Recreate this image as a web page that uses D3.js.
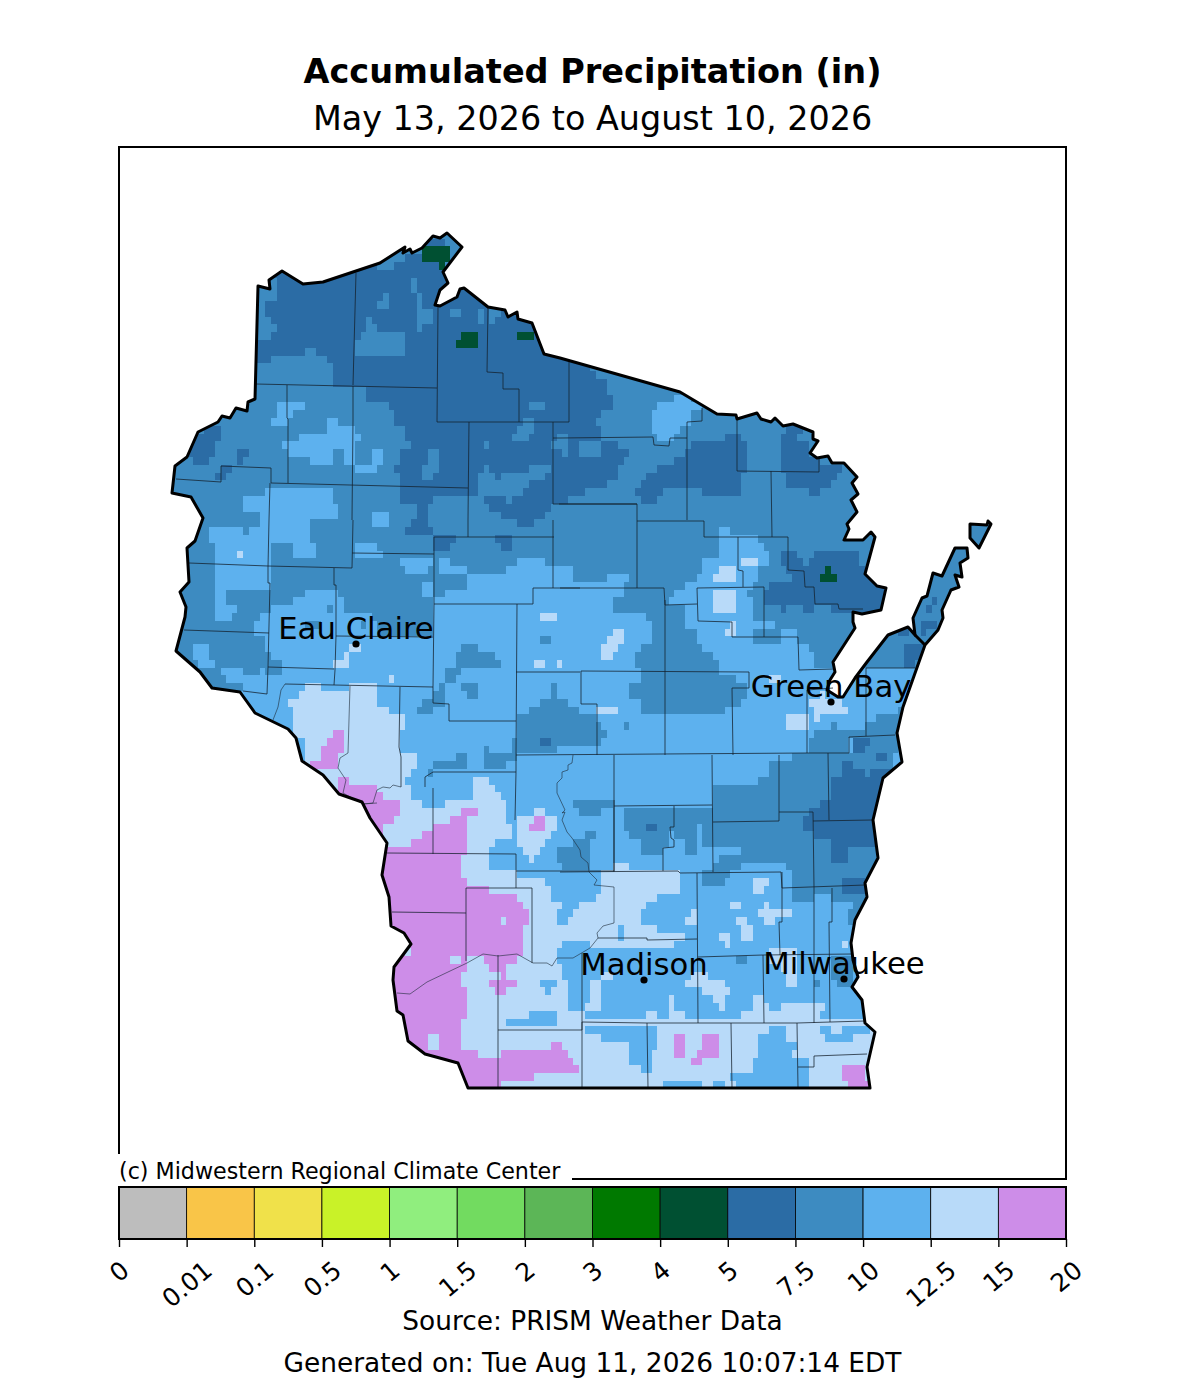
<!DOCTYPE html>
<html>
<head>
<meta charset="utf-8">
<script src="https://cdn.jsdelivr.net/npm/d3@7"></script>
<style>
  html, body { margin: 0; background: #fff; }
  text { font-family: "DejaVu Sans", sans-serif; fill: #000; }
</style>
</head>
<body>
<svg id="chart" width="1184" height="1400"></svg>
<script>
// bins of the colour bar
const binEdges = ['0', '0.01', '0.1', '0.5', '1', '1.5', '2', '3', '4', '5', '7.5', '10', '12.5', '15', '20'];
const binColors = ['#bdbdbd', '#f9c548', '#f0e14a', '#c9f228', '#90ee7e', '#72db60', '#5cb657', '#007900', '#005032', '#2b6ca5', '#3d8bc1', '#5db1ee', '#b8daf9', '#cd8de8'];

// inches, one typical value per bin seen on the map
const G = 4.5, D = 6, M = 8.5, L = 11, P = 13.5, U = 17;
const baseValue = M;

// map coordinates are grid units: east, south
const stateOutline = '25.8,28.6 27,28.9 26.9,28 28.2,27.1 30.3,28.4 32.3,28.2 38,26.3 40.5,24.7 40.3,25.3 41,24.9 41.2,25.3 42.2,24.8 43.3,23.6 44,23.8 44.7,23.3 46.2,24.7 44.3,27.2 44.8,28.3 44,29 43.5,30.5 44,30.6 45.7,29.7 46,28.9 46.4,28.8 48.8,30.7 50.5,31 50.8,31.7 51.7,31.2 51.8,31.9 53.2,32.3 54.4,35.4 56,35.8 68,39.2 71.7,41.4 73.6,41.5 73.7,41.9 75.7,41.3 76.1,41.9 77.1,42.2 77.5,41.8 78.3,42.6 79.3,42.4 81.3,43.2 81.3,43.9 81.8,44.1 81,45.3 81.7,45.8 82.8,45.6 83.2,46.3 84.4,46.3 85.7,47.7 85.2,48.3 85.8,49.4 85.1,50 85.7,51.2 84.7,52.4 84.9,52.9 84.4,54 86.3,54 87.1,53.2 87.5,53.7 86.5,57.4 87.7,58.6 88.6,58.8 88.1,61 86.2,61.4 85.3,61.2 85.3,62.2 85.5,62.8 83.3,66.2 83.5,67.2 83,68 82.7,69 83.8,69.7 84.3,69.7 85.5,67.8 86.7,66.2 88.8,63.5 89.8,63.1 90.8,62.7 91.5,63.5 91.3,61.8 92.2,59.8 92.7,59.6 93.3,57.3 94.2,57.6 95.5,54.8 96.7,54.8 96.8,55.8 96,56.3 96.2,57.7 95.5,57.5 95.9,58.7 95.1,59 94.2,61 94.3,61.8 93.8,63 92.5,64.5 90.3,70.7 89.7,73.3 90.2,76.2 88.3,77.8 87.3,82 87.8,85.8 86.5,88.3 86.7,89.7 85.5,92 85.1,94.3 85.3,96 85.8,97.7 85.2,98.7 86.2,100 86.5,102.3 87.5,103.2 86.7,106.7 87,108.8 46.8,108.8 45.8,106.3 42.5,105.4 40.8,104.1 40.3,101.5 39.7,101.1 39.3,98 39.4,96.7 41.1,94.4 40.4,93.3 39.1,92.6 38.9,89.7 38.2,87.5 38.7,84.3 37,81.8 36.2,80.2 33.9,79.4 32.3,77.5 30.2,76.1 29.6,73.8 28.8,72.9 25.5,71.3 24,69.2 21.2,68.8 20,67.2 17.6,65.1 18.5,61.7 18.6,60.7 18,59.2 18.9,58.2 18.7,54.8 19.5,54.1 20.3,51.8 19.1,49.7 17.2,49.3 17.5,46.6 18.7,45.7 19.8,43.2 21.8,42.2 22.2,41.6 23,41.8 23.6,40.8 24.7,41.1 24.8,40.2 25.5,39.9';
const islandOutline = '97,52.4 98.7,52.5 98.8,52.1 99.1,52.4 98.3,54 97.9,54.8 97,53.8';
const doorSeam = '91.5,63.5 92.5,64.5';

const countyLines = [
  '35.6,27.3 35.3,38.5', '25.6,38.4 43.7,38.8', '43.8,30.7 43.7,42.2',
  '48.8,30.7 48.7,37.2 50.3,37.3 50.3,38.9 51.9,38.9 51.9,42.2', '43.7,42.2 56.9,42.2', '56.9,36.2 56.9,42.2',
  '28.7,38.5 28.7,41.8 28.8,41.9 28.8,48.3', '35.3,38.6 35.3,42 35.2,52', '46.9,42.2 46.8,52', '55.3,42.2 55.3,50.4',
  '55.3,43.8 56,43.8 65.3,43.7 65.4,44.5 66.9,44.6 67,43.8 68.7,43.8', '55.3,50.4 63.7,50.4 63.7,52.1 70.4,52.1 70.4,53.7 78.8,53.7 78.8,57 80.4,57.1 80.5,58.7 81.4,58.7 81.5,60.4 83.8,60.4 83.9,60.9 86.3,60.9',
  '17.6,47.9 22.1,48.2 22.1,46.6 27.1,46.8 27.1,48.3 46.8,48.8', '27,48.3 26.9,52 26.8,56.7 26.8,58.3 27,58.3 26.8,66.7 26.7,69.4',
  '24.3,69.1 26.7,69.4', '18.9,56.3 26.8,56.6 35.2,56.8 35.3,52', '18.4,63 26.9,63.3', '26.8,66.7 33.4,66.9',
  '33.4,56.8 33.4,58.5 33.6,58.5 33.6,63.6 33.5,67 33.4,68.5', '33.6,63.6 43.3,63.7', '35.2,55.3 43.4,55.4',
  '43.4,53.7 55.4,53.7', '46.8,52 46.8,53.7', '43.4,53.7 43.4,60.4 43.3,68.7', '55.3,52 55.3,58.8', '53.3,58.8 58,58.8',
  '53.3,58.8 53.3,60.4 43.4,60.4', '51.7,60.4 51.6,75.5', '51.6,67.2 58,67.2', '55.9,50.4 63.7,50.4', '63.7,52.1 63.7,58.8',
  '56,58.8 66.4,58.8 66.5,60.5 69.7,60.4', '69.7,58.8 76.4,58.7', '69.7,58.8 69.8,62.1 73.2,62.2 73.2,63.7 79.8,63.7 79.9,67 83.3,66.9',
  '76.4,58.7 76.4,63.7', '73.8,53.7 73.8,57 74.3,57.1 74.3,58.7', '68.7,42.2 68.7,52', '68.7,42.2 70.2,42.1 70.2,40.8',
  '73.7,42 73.7,47.1 81.9,47.2 81.9,45.9', '77.1,47.1 77.2,53.7', '66.5,60 66.5,75.5', '58.1,67.1 74.9,67.2 74.9,68.8 73.2,68.8 73.3,75.5',
  '58.1,67.1 58.1,70.4 59.7,70.4 59.7,75.5', '51.6,75.5 80.7,75.3 84.9,75.3 84.9,73.7 89.5,73.5', '80.7,69 80.7,75.3', '80.7,69 83.3,68.8',
  '86.6,66.8 86.6,73.6', '86.6,66.8 91.5,66.8', '61.4,75.5 61.4,87.2', '61.4,80.6 71.2,80.5', '67.4,80.6 67.4,82.7 67,82.7 67.1,83.8 67.4,84 67.4,84.7 66.3,84.8 66.3,87.1',
  '71.2,75.5 71.3,87.2', '71.3,82.2 77.9,82.1', '77.9,75.5 77.9,82.1', '77.9,81.2 81.3,81.2 81.4,88.7', '81.3,82.1 87.2,82', '82.8,75.3 82.9,82',
  '56,87.2 67.8,87.1 68,87.3 78.1,87.2 78.2,88.8 86.5,88.5', '69.7,87.3 69.8,102.3', '81.4,88.7 81.4,102.3', '78.2,87.2 78.2,92.2 77.9,92.2 78,95.5', '83.2,88.8 83.2,92.2 82.9,92.2 83,102.2',
  '69.8,95.7 76.3,95.5 85.2,95.4', '76.3,95.5 76.4,102.3', '58.2,102.2 64.7,102.3 79.7,102.3 86.5,102.1', '64.7,102.3 64.8,108.8', '73.1,102.3 73.2,108.8', '79.7,102.3 79.8,108.8',
  '79.8,106.7 81.4,106.7 81.4,105.6 86.7,105.4', '63,93.8 64.7,93.8 64.7,94 69.7,93.9',
  '43.3,68.7 43.3,70.3 44.9,70.4 44.9,72.1 51.6,72.1', '42.5,78.7 42.5,77.7 43.3,77.2 51.6,77.2 51.5,82', '51.6,75.5 51.6,77.2',
  '28.5,68.4 43.3,68.7', '40,68.7 39.9,74.7 40.1,75.7 40.1,78.7', '43.3,78.8 43.3,85.4', '38.7,85.3 51.6,85.4', '51.6,85.4 51.6,88.8', '46.6,88.8 53.2,88.8 53.2,96.3', '46.6,88.8 46.6,96.1',
  '39.2,91.2 46.6,91.3', '49.8,95.5 49.8,108.7', '49.8,103 58.2,103', '58.2,95.3 58.2,108.7', '58.2,102.2 58.2,103', '51.6,87.1 61.4,87.1', '61.4,80 61.4,87.1', '59.8,93.8 63,93.8'
];
const riverLines = [
  '28.5,68.4 28.1,69 27.8,70.7 27.3,72', '35,68.6 34.8,75.3 34,75.8 33.8,76.8 34.6,78 34.3,79.3',
  '34.3,79.3 36.3,80.4 37.3,80.3 37.7,79 38.3,78.7 39,78.8 39.3,78.5 40.1,78.7', '36.3,80.4 37.7,80.3',
  '57.3,75.5 57.2,76.3 56.8,76.5 56.8,77 56.2,77.2 56.2,77.8 55.7,78.3 55.7,79.3 56.5,81 56.2,81.3 56.5,81.2 56.2,82 56.7,83.2 57.2,83.8 58,85 58.1,85.7 58.8,86.3 58.9,87.2 59.7,88 59.4,88.5 61.4,88.7 61.4,92.3 60.3,92.6 59.7,93.3 59.8,93.8 59,94.8 57.3,95.8 55.7,95.8 55.2,96.6 54.7,96.3 53.3,96.3 51.7,95.4 49.8,95.6 48.3,95.4 46.7,96.3 44.8,97.2 42.7,98.2 41,99.4 39.7,99.3'
];

// painted in order: a later zone covers an earlier one
const zones = [
  [D, '24,27 46,23 56,34 59.6,37 60.2,38.2 60.7,38.3 60.7,39.1 61.3,39.9 61.3,40.7 60.2,40.7 60.2,41.5 59.6,41.5 59.6,42.2 60.1,42.2 60.1,43.7 60.7,43.9 61.8,43.9 61.8,44.7 62.9,44.7 62.9,45.5 62.3,45.5 62.3,46.3 61.8,46.3 61.8,47.8 60.7,47.8 60.7,48.6 58.5,48.6 58.5,49.4 56.8,49.4 56.8,50.3 55.3,50.3 54.6,51 54.6,52 53.3,52 53.3,52.7 51.8,52.7 51.8,52 50,52 46.8,52 46.8,49.3 44.5,49.3 42.8,50.3 42.8,52 41.7,52 41.7,50.3 40,50 40.1,48.7 40.1,47 39.5,47 39.5,46.2 40.1,46.2 40.1,45.3 41.2,45.3 41.2,43.8 40.7,43.8 40.7,43 39.6,42.2 39.6,40.7 36.8,40.5 36.8,38.8 35.4,38.8 32.3,38.1 33,38 33,36.5 32.5,35.5 31.4,35.5 31.4,34.8 30.3,34.8 30.3,35.5 27,35.5 27,36.3 24,36.3'],
  [M, '25.5,28.4 27.7,28 27.7,29.8 26.6,29.8 26.6,31.5 27.1,31.5 27.1,32.3 27.6,32.3 27.6,33.1 27,33.1 27,33.9 25.5,33.9'],
  [M, '40.9,27.8 41.5,27.8 41.5,29.4 42,29.4 42,30.2 42.5,30.2 42.5,31 43.1,31 43.1,31.8 43.6,31.8 43.6,32.7 42.5,32.7 42.5,33.4 41.9,33.4 41.9,32.7 41.4,32.7 41.4,29.4 40.9,29.4'],
  [M, '37.6,30.1 38.2,30.1 38.2,29.3 38.7,29.3 38.7,30.9 37.6,30.9'],
  [M, '36.5,31.7 37,31.7 37,32.5 37.5,32.5 37.5,33.3 40.3,33.3 40.3,35.7 39.1,35.7 39.1,36.5 38.6,36.5 38.6,35.7 36.9,35.7 36.9,34.9 36.4,34.9 36.4,35.7 35.3,35.7 35.3,34.2 35.9,34.2 35.9,33.3 36.5,33.3'],
  [M, '37.8,26.2 40,24.5 42.1,24.8 42.1,25.5 40.4,25.5 40.4,26.2 39.3,26.2 39.3,27 37.8,27'],
  [M, '42,22.8 47,22.8 47,27 44.5,27 44.5,24 42,24'],
  [M, '45.3,31 46.4,31.2 46.4,31.9 45.3,31.7'],
  [M, '48,31.2 48.6,31.2 48.6,32.7 48,32.7'],
  [M, '48.8,31 50.2,31.2 50.2,31.8 49.7,31.8 49.7,32.7 49.1,32.7 49.1,31.8 48.8,31.8'],
  [M, '52.9,39.9 54.6,39.9 54.6,40.7 52.9,40.7'],
  [M, '52.4,41.5 53.5,41.5 53.5,43.1 52.8,43.1 52.8,43.8 51.2,43.8 51.2,43.1 51.8,43.1 51.8,42.3 52.4,42.3'],
  [M, '42.8,45.3 44,45.3 44,47 43.4,47 43.4,47.8 42.3,47.8 42.3,46.2 42.8,46.2'],
  [M, '48.5,43.9 49,43.9 49,44.7 48.5,44.7'],
  [M, '47.9,47 48.5,47 48.5,46.3 49,46.3 49,47.2 49.5,47.2 49.5,47.8 50.2,47.8 50.2,47.2 52.8,47.2 52.8,46.3 55.1,46.3 55.1,47.2 54.5,47.2 54.5,47.8 52.8,47.8 52.8,48.7 52.3,48.7 52.3,49.5 51.2,49.5 51.2,50.3 50.5,50.3 50.5,49.5 48.4,49.5 48.4,50.3 48.9,50.3 48.9,51 50,51 50,52 46.8,52 46.8,49.5 47.9,49.5'],
  [M, '55.2,44 56.7,44 56.7,45.5 56.2,45.5 56.2,44.7 55.2,44.7'],
  [M, '55.7,43.1 56.7,43.1 56.7,43.8 55.7,43.8'],
  [M, '57.9,43.9 60.2,43.9 60.2,45.4 57.9,45.4'],
  [M, '56.8,49.5 58,49.5 58,50.3 56.8,50.3'],
  [G, '42.2,24.6 45.3,24.6 45.3,25.4 44.8,25.4 44.8,26.2 44.4,26.2 44.4,27 44.1,27 44.1,26.2 42.2,26.2'],
  [G, '46.3,33.5 48,33.5 48,35.1 45.8,35.1 45.8,34.3 46.3,34.3'],
  [G, '51.9,33.5 53.5,33.5 53.5,34.3 51.9,34.3'],
  [G, '53.5,34.3 54.2,35.1 53.5,35.1'],
  [G, '52.4,32.3 53.2,32.3 53.2,32.7 52.4,32.7'],
  [D, '63.5,48.8 64.1,48.8 64.1,48 64.6,48 64.6,47.2 65.7,47.2 65.7,46.3 67.4,46.3 67.4,45.5 68.7,45.5 68.7,48.7 66.3,48.7 66.3,49.5 65.8,49.5 65.8,50.3 64.1,50.3 64.1,49.5 63.5,49.5'],
  [D, '68.7,44.7 69.1,44.7 69.1,43.8 72.3,43.8 72.3,43 73.7,43 74.1,43.5 74.1,49.3 70.2,49.3 70.2,48.6 68.7,48.6'],
  [D, '73.7,43.8 74.6,43.8 74.7,46.3 74.7,47.1 73.7,47.1'],
  [D, '78.5,42.7 80.2,42.7 80.2,43.7 79.6,43.7 79.6,44.5 81,44.5 81,45.3 81.9,45.9 81.9,47.1 78,47.1 78,45.3'],
  [D, '80.2,43 81.2,43 81.2,43.6 80.2,43.7'],
  [D, '78.6,47.1 78.6,48.5 80.8,48.5 80.8,49.3 82,49.3 82,48.6 83.6,48.3 83.6,47.6 84.7,47.6 84.2,46.5 81.9,46.5 81.9,47.1'],
  [D, '78.2,54.9 79.8,54.9 79.8,55.7 80.4,55.7 80.4,56.5 81,56.5 81,55.7 81.5,55.7 81.5,54.9 86,54.9 86.6,54.2 88,54 89,59 88.5,61.2 84,61.5 83.3,61.2 83.3,60.5 81.7,60.5 81.7,61.3 80.5,61.3 80.5,60.5 78.8,60.5 78.8,61.3 78.3,61.3 78.3,60.5 76.5,60.4 76.5,58.8 77.1,58.8 77.1,58.2 79.3,58.2 79.3,57.3 78.8,57 78.2,56.5'],
  [M, '86.2,54.8 86.6,54.2 88,53 88,54 86.6,57.5 86,56.3 86,54.8'],
  [G, '82.7,56.4 83.3,56.4 83.3,57.2 83.8,57.2 83.8,58 82.1,58 82.1,57.2 82.7,57.2'],
  [D, '19.8,43.3 21.8,42.3 21.8,43.3 22.3,43.3 22.3,44.1 21.7,44.1 21.7,45.7 21,45.7 21,46.4 19.3,46.4 19.3,45.5 18.5,45.5 18.5,44.5'],
  [D, '23.9,45 25,45 25,45.7 24.4,45.7 24.4,46.5 23.9,46.5'],
  [D, '21.6,47.3 22.2,47.3 22.2,46.6 23.3,46.6 23.3,47.3 22.7,47.3 22.7,48.2 21.6,48.2'],
  [D, '41.1,52 42.8,52 42.8,52.7 43.3,52.7 43.3,53.4 45.6,53.4 45.6,54.2 45,54.2 45,55 43.4,55 43.4,53.4 42.8,53.4 40.5,53.4 40.5,52.7 41.1,52.7'],
  [D, '49.5,53.5 51.2,53.5 51.2,55.1 50.1,55.1 50.1,54.3 49.5,54.3'],
  [L, '65.1,40.8 65.7,40.8 65.7,39.9 67.3,39.9 67.3,39.2 68,39.2 70.2,40.7 69,41.5 69,42.2 67.9,43 67.9,43.7 65.7,43.9 65.7,43.2 65.1,43.2'],
  [L, '27.4,40.3 30.2,40.3 30.2,41.2 29.6,41.2 29.6,41.9 28.6,41.9 28.5,42.7 27.3,42.7 27.3,41.9 27.4,41.9'],
  [L, '32.9,42 34,42 34,42.9 35.6,42.9 35.6,43.7 36.2,43.7 36.2,44.5 35.6,44.5 35.6,46.1 34.5,46.1 34.5,45.2 33.4,45.2 33.4,46.8 31.1,46.8 31.1,46.1 30,45.9 28.9,45.9 28.9,45.1 28.4,45.1 28.4,44.3 30.1,44.3 30.1,43.7 32.9,43.7'],
  [L, '35.6,46.2 37.3,46.2 37.3,45.3 38.4,45.3 38.4,46.1 37.8,46.1 37.8,46.9 35.6,46.9'],
  [L, '24.3,49.8 26.7,49.8 26.7,49.1 27.8,49.1 30,48.5 32.8,48.5 33.3,49.2 33.3,50.7 33.8,50.8 33.8,51.6 32.7,51.6 32.7,52.3 31,52.3 31,54 31.5,54 31.5,56.2 28.1,56.2 28.1,55.5 29.3,55.5 29.3,54 27,54 27,56.3 21.3,56.3 21.3,54.3 20.8,54.3 20.8,53 24.2,53 24.2,53.7 24.8,53.7 24.8,53 26,53 26,52 26.2,51.3 24.3,51.3'],
  [L, '37.2,51 38.9,51 38.9,52.5 37.2,52.5'],
  [L, '35.3,54.2 37.7,54.2 37.7,55 38.2,55 38.2,55.6 35.3,55.6'],
  [L, '21.3,56.7 27,56.7 27,58.6 22.9,58.6 22.9,60.3 24,60.3 24,61 23.4,61 23.4,61.7 21.7,61.7 21.7,58.5 21.3,58.5'],
  [L, '19.3,64.8 21,64.8 21,65.7 21.6,65.7 21.6,66.5 19.9,66.5 19.9,65.7 19.3,65.7'],
  [L, '22.1,66.5 24.3,66.5 24.3,67.2 25.5,67.2 25.5,69.3 24.3,69.3 24.3,68.3 22.6,68 22.6,67.2 22.1,67.2'],
  [L, '27,60.3 29.1,60.3 29.1,59.5 30.3,59.5 30.3,58.8 33.5,58.8 33.6,59.7 34.2,59.7 34.2,61.2 37.3,61.2 37.3,62 38,63.5 38,63.7 43.3,63.7 43.3,60.4 43.4,59.8 43.8,55.8 45,55.8 45,56.8 46.6,56.8 46.6,57.5 50.7,57.5 50.7,56.7 51.8,56.7 51.8,56 54.5,56 54.5,56.7 57.3,56.7 57.3,58.3 60.7,58.3 60.7,57.5 63,57.5 63,58.3 62.3,58.3 62.3,59.8 61.8,59.8 61.8,60.7 61.3,60.7 61.3,61.5 66.5,60 69.2,58.3 69.8,57.5 70.3,55.9 71.8,55.8 71.8,52.6 73,52.6 73.2,53.4 75.9,53.5 75.9,54.2 76.4,54.2 76.4,54.8 77,55.5 77,56.5 76.4,56.5 74.8,59 75.4,62 76.5,62.2 77.7,62.2 77.7,62.9 80,62.9 80,64.5 80.6,64.5 80.6,65.3 81.2,65.3 81.2,66.8 96,66.8 96,109.5 38,109.5 30,80 22,70 25,69 25.6,67.2 26.8,66.7 26.8,64 25.7,63.3 25.7,61.8 27,61'],
  [M, '26.8,65.1 27.3,65.1 27.3,66 28.4,66 28.4,67.5 26.8,67.5'],
  [M, '30.3,62 32.3,62 32.3,62.8 30.3,62.8'],
  [M, '36,62.2 36.5,62.2 36.5,63 36,63'],
  [M, '32.5,60.3 33,60.3 33,61.2 32.5,61.2'],
  [M, '43.4,57.5 46.6,57.5 46.6,59 44.7,59 44.7,59.8 43.4,59.8'],
  [L, '39.9,55.8 43.3,55.8 43.3,56.6 42.7,56.6 42.7,57.4 40.5,57.4 40.5,56.6 39.9,56.6'],
  [L, '42.1,58.2 43.3,58.2 43.3,59.8 42.1,59.8'],
  [M, '61.3,61.4 64.7,61.4 64.7,62.3 65.3,62.3 65.3,64.7 64.2,64.7 64.2,65.5 63.6,65.5 63.6,67.1 64.2,67.1 64.2,68.7 63,68.7 63,70.2 64.2,70.2 64.2,71.1 71.7,71.1 71.7,71.7 72.2,71.7 72.2,71 74.4,71 74.4,70 74.9,69.2 74.9,68.7 73.8,68.7 73.8,67.8 72.7,67.8 72.7,67.2 72.1,67.2 72.1,66.3 71.5,66.3 71.5,65.5 70.4,65.5 70.4,64.7 69.8,64.7 69.8,63 68.7,63 68.7,60.5 66.5,60 61.3,60'],
  [M, '75.5,63 77.8,63 77.8,64.5 75.5,64.5'],
  [M, '51.7,72 52.2,71.2 52.8,71.2 52.8,70.3 53.8,70.3 53.8,69.5 55,69.5 55,68.7 55.6,68.7 55.6,69.5 56.8,69.5 56.8,71 58,71 59.7,71.8 60.2,72 60.2,72.7 60.8,72.7 60.8,73.5 60.2,73.5 60.2,74.3 56.2,74.3 55.1,75.5 51.7,75.5'],
  [M, '46,64.6 47.7,64.6 47.7,65.5 49.4,65.5 49.4,66.3 50,66.3 50,67.1 47.7,67.1 46,67 46,67.8 45.4,67.8 45.4,68.7 44.3,68.7 44.3,69.5 43.7,69.5 43.7,70.3 43.2,70.3 43.2,69.5 44.3,67.8 44.8,67 45.4,67 45.4,65.5 46,65.5'],
  [M, '46,68.6 47.7,68.6 47.7,70.2 46.6,70.2 46.6,69.4 46,69.4'],
  [M, '41.9,71 42.5,71 42.5,70.2 44.2,70.2 44.2,71 43.6,71 43.6,71.8 41.9,71.8'],
  [M, '43,76.7 43.6,76.7 43.6,75.8 45.4,75.8 45.4,75.1 46.5,75.1 46.5,77.2 43,77.3'],
  [M, '48.2,74.2 48.8,74.2 48.8,75 51.1,75 51.1,73.5 51.6,73.5 51.6,76 50.5,76.7 48.2,76.7'],
  [M, '53.9,63.9 55.1,63.9 55.1,64.7 53.9,64.7'],
  [D, '53.9,73.5 55.1,73.5 55.1,74.3 53.9,74.3'],
  [M, '81.3,73.2 83,73.2 83,72.4 83.6,72.4 83.6,73.2 86.6,73.2 86.6,73.6 84.9,73.6 84.9,75.3 80.7,75.3 80.7,74 81.3,74'],
  [M, '86.6,72.7 87.7,71.5 89.3,71.5 90.2,70.7 90,74 86.6,74'],
  [D, '90.3,65 90.3,64 92.5,64.5 91.5,66.5 90.3,66.6'],
  [D, '89,63.6 90.8,62.7 90.8,64 89.7,64'],
  [D, '92.8,60.3 94,59.3 94,60.5 93.3,61 92.8,61'],
  [D, '92.3,61.8 93.8,61.8 93.8,62.8 92.3,63.5'],
  [D, '95.5,54.8 96.8,54.8 96.8,55.2 95.5,55.2'],
  [M, '71.3,78.3 75.7,78.1 76.3,77.3 76.8,77.3 76.8,76.5 77.9,76.5 78,76.2 79,76.2 79,75.7 84.9,75.3 86.6,73.7 90,74 88.5,78 87.5,89 86,88.9 79.2,88.8 79.2,87 78.3,86.2 71.3,86.2'],
  [D, '82.9,77.3 84.3,77.3 84.3,76.3 85.5,76.3 85.5,74 87.1,74 87.1,74.7 86.5,74.7 86.5,75.5 85.5,75.5 85.5,77.2 86.6,77.2 86.6,77.8 87.2,77.8 87.2,77.2 89.5,76.5 89.5,85 85,84.5 85,86 83.3,86 83.3,83.7 81.3,83.7 81.3,82.8 80.4,82.8 80.4,81.2 80.9,81.2 80.9,80.5 82.2,80.4 82.9,79.7'],
  [D, '87.7,75.5 88.8,75.5 88.8,76.3 87.7,76.3'],
  [L, '71.3,84.6 74.1,84.6 74.1,85.4 71.8,85.4 71.8,86.2 71.3,86.2'],
  [L, '74.2,86.2 78.3,86.2 79.2,87 79.2,88.7 78.2,88.8 78.1,87.2 73,87.2 73,87 74.2,87'],
  [M, '70.1,87.3 73,87.3 73,87.8 72.4,87.8 72.4,88.6 70.1,88.6'],
  [M, '71.3,86 74.2,86 74.2,87 71.3,87.2'],
  [M, '79.4,88.8 83.2,88.8 83.2,89.5 81.2,89.7 81.2,90.1 79.4,90.1'],
  [M, '83.2,88.8 86.7,88.8 86,92.2 84.6,92.3 84.6,90.8 85.2,90.8 85.2,90 83.2,90'],
  [D, '84,87.6 86.3,87.6 86.3,89 84,89.2'],
  [M, '73.7,95.8 74.8,95.8 74.8,96.6 73.7,96.6'],
  [M, '81.3,98 81.9,98 81.9,98.8 81.3,98.8'],
  [M, '83,95.5 85.3,95.5 85.3,98.8 83.6,98.8 83.6,98 83,98'],
  [P, '30.7,68.5 32.3,68.5 32.3,69.2 35,69.2 35,68.6 38,68.6 38,70.8 39.1,70.8 39.1,71.7 40.8,71.7 40.8,73.3 40.1,73.3 40.1,75.7 41.9,75.7 41.9,76.7 41.3,76.7 41.3,77.5 40.7,77.5 40.7,78.7 41.2,78.8 41.2,79.7 42.5,79.7 42.5,80.6 44.7,80.6 44.7,79.8 47,79.8 47,77.4 48.7,77.4 48.7,78.2 49.3,78.2 49.3,79 49.9,79 49.9,79.8 50.4,79.8 50.4,82.3 51,82.3 51,83.9 49.8,84.3 49.2,84.6 49.2,85.3 48.7,85.4 48.7,87 51.6,87 51.6,88 54.4,87.9 54.4,88.7 55,88.7 55,90.2 56.2,90.2 56.2,91.1 55.6,91.1 55.6,92.7 56.7,92.7 56.7,91.8 57.3,91.8 57.3,91.1 57.9,91.1 57.9,90.2 59.7,90.2 59.7,89.5 60.2,89.5 60.2,87.2 67.8,87.2 67.8,89.3 66,89.3 66,90.3 64.9,90.3 64.9,91.1 64.3,91.1 64.3,92.7 65.5,92.7 65.5,93.4 68.3,93.4 68.3,94 67.2,94 67.2,94.9 58.5,94.9 58.5,101.5 64,102 88,102 88,109.5 37,109.5 37,83 33,81 29,78 30.3,76 30.4,73.8 29.8,73.8 29.3,73 29.3,70.7 28.8,70.7 28.8,69.9 30,69.9 30,69.2 30.7,69.2'],
  [P, '51.6,82 52.4,81.5 53.2,81.2 54,80.5 54.6,80.5 54.6,81.5 55.7,81.5 55.7,83 54.5,83.8 54.5,84.5 53.8,85 53.3,86.2 52.6,85.7 51.8,84.8 51.6,84'],
  [M, '55.7,84.7 57.3,84.7 57.3,83.8 58.5,83.8 58.5,83.2 59.6,83.2 59.6,84 59.1,84 59.1,87.1 56.2,87.1 56.2,86.2 55.6,86.2'],
  [M, '57.3,80 61.4,80 61.4,80.6 60.2,80.7 60.2,81.5 57.9,81.5 57.9,80.6 57.3,80.6'],
  [M, '61.5,80.7 67.3,80.7 67.3,82.7 67,83 67,84.7 66.2,84.8 66.2,85.5 64.3,85.5 64.3,84.7 62.6,83.3 62.6,80.7'],
  [D, '64.8,82.3 66,82.3 66,83.1 64.8,83.1'],
  [M, '67.4,80.8 71.2,80.6 71.2,84.7 70,84.7 70,82.2 69.5,82.7 69.5,85.3 68.8,85.3 68.8,83.8 67.5,83.8 67.5,82.7'],
  [P, '61.5,86.3 63.1,86.3 63.1,87.1 61.5,87.1'],
  [L, '50.9,101.5 52.6,101.5 52.6,100.7 55.6,100.7 55.6,102.3 54.4,102.3 54.4,103 50.9,103'],
  [L, '53.8,98.3 55.6,98.3 55.6,99.1 55,99.1 55,99.9 54.4,99.9 54.4,99.1 53.8,99.1'],
  [L, '56.2,94.3 59.2,94.3 58.2,95 58.2,100.7 56.7,100.7 56.7,98.3 56.2,98.3 56.2,96.3 55.6,96.3 55.6,95.2 56.2,95.2'],
  [L, '61.4,93.7 62,93.7 62,92.7 62.6,92.7 62.6,94.3 61.4,94.3'],
  [P, '59,98.3 60.2,98.3 60.2,101.3 58.3,101.5 58.3,100 59,100'],
  [P, '60.2,97.3 61.3,97.3 61.3,98.3 60.2,98.3'],
  [L, '58.5,102.3 65,102.3 65,107 63.8,107 63.8,106.3 63.2,106.3 63.2,105 62,104 60,104 60,103.2 58.5,103.2'],
  [L, '64.7,102.3 66.1,102.3 65.5,104.7 64.4,104.7 64.4,105.5 64.8,105.5'],
  [L, '66.2,107.8 70.3,107.8 70.3,108.9 66.2,108.9'],
  [L, '71.5,107.8 72.6,107.8 72.6,108.9 71.5,108.9'],
  [L, '76.7,102.9 78.4,102.9 78.4,103.7 79.6,104.5 79.6,105.3 79.1,105.3 79.1,106.1 79.8,106.1 79.8,109 73.2,109 73.2,107 75,107 75,106.2 76.1,105.3 76.1,103.7 76.7,103.7'],
  [L, '79.8,106.1 80.9,106.1 80.9,109 79.8,109'],
  [P, '73.2,107.8 73.8,107.8 73.8,109 73.2,109'],
  [L, '81.4,102.3 86.5,102.3 87.2,103.5 85.5,103.5 85.5,104.4 82.7,104.4 82.7,103.7 82,103.7 82,102.9 81.4,102.9'],
  [P, '83.1,102.8 84.3,102.8 84.3,103.6 83.1,103.6'],
  [P, '75.3,87.7 77,87.7 77,88.5 76.4,88.5 76.4,89.3 75.3,89.3'],
  [P, '73,90.2 74.2,90.2 74.2,91 73,91'],
  [P, '76.5,90.1 77.1,90.1 77.1,90.9 79.4,90.9 79.4,91.7 77.7,91.7 77.7,92.5 76.5,92.5 76.5,91.7 75.9,91.7 75.9,90.9 76.5,90.9'],
  [P, '73.6,91.8 74.8,91.8 74.8,92.6 75.4,92.6 75.4,94.2 74.2,94.2 74.2,92.6 73.6,92.6'],
  [P, '71.9,93.4 73,93.4 73,95 72.5,95 72.5,94.2 71.9,94.2'],
  [P, '84.1,94 84.7,94 84.7,94.8 84.1,94.8'],
  [P, '68.9,91 69.5,91 69.5,92.6 68.4,92.6 68.4,91.8 68.9,91.8'],
  [P, '74.3,101.3 75,101.3 75,99.7 76.3,99.7 76.3,102.2 74.3,102.2'],
  [P, '68.4,98.2 69,98.2 69,97.4 70.8,97.4 70.8,98.2 72.5,98.2 72.5,99 73.1,99 73.1,99.8 72.5,99.8 72.5,101.4 72,101.4 72,100.6 71.4,100.6 71.4,99.8 70.2,99.8 70.2,99 68.4,99'],
  [P, '66.7,99.8 67.3,99.8 67.3,101.4 68.5,101.4 68.5,102.2 66.7,102.2'],
  [P, '64.9,100.7 65.5,100.7 65.5,101.5 64.9,101.5'],
  [P, '76.5,100.5 77.2,100.5 77.2,101.3 77.8,101.3 77.8,100 78.4,100 79,100.5 82.5,100.4 82.5,101.2 81.9,101.2 81.9,102.2 76.5,102.2'],
  [P, '77,94.9 80,94.9 80,98.8 78.9,98.8 78.9,97.3 78.3,97.3 78.3,96.5 77,96.5'],
  [P, '61.3,63.1 62.4,63.1 62.4,64.7 61.9,64.7 61.9,65.4 61.3,65.4 61.3,66.3 60.2,66.3 60.2,64.7 60.8,64.7 60.8,63.8 61.3,63.8'],
  [P, '59.7,70.3 61.9,70.3 61.9,71.1 59.7,71.1'],
  [M, '62.5,71.9 63.1,71.9 63.1,72.7 62.5,72.7'],
  [P, '66.6,72.7 67.1,72.7 67.1,73.5 66.6,73.5'],
  [P, '78.5,71.7 80.7,71.7 80.7,73.3 78.5,73.3'],
  [P, '80.7,69.7 82.5,69.4 84.1,70 84.1,70.8 84.7,70.8 84.7,71.6 81.8,71.6 81.8,72.4 81.3,72.4 81.3,71 80.7,70.8'],
  [P, '76.7,67.7 77.8,67.7 77.8,68.3 76.7,68.3'],
  [P, '79.6,69.7 80.1,70.1 79.6,70.1'],
  [P, '74.2,55.8 75.9,55.8 75.9,56.6 74.2,56.6'],
  [P, '72,56.6 73.7,56.6 73.7,57.3 74.3,57.4 73.1,58.3 71.5,58.2 71.4,57.4 72,57.4'],
  [P, '71.5,58.8 73.7,59 73.7,60.5 73.2,61.4 71.5,61.3'],
  [P, '73.2,62.2 73.8,62.2 73.8,63.7 72.6,63.7 72.6,63 73.2,63'],
  [P, '54,61.5 55.7,61.5 55.7,62.3 54,62.3'],
  [P, '53.4,66.3 54.5,66.3 54.5,67.1 53.4,67.1'],
  [P, '55.6,66.3 56.2,66.3 56.2,67.1 55.6,67.1'],
  [P, '39.1,67.7 39.7,67.7 39.7,68.5 39.1,68.5'],
  [P, '33.5,66 34.5,66 34.6,65.3 35.2,65.3 35.2,66.8 33.5,66.8'],
  [P, '35.2,64.7 35.8,64.7 35.8,65.3 35.2,65.3'],
  [P, '23.6,55.3 24.1,55.3 24.1,56.2 23.6,56.2'],
  [U, '33.3,74 33.3,73.2 34.5,73.2 34.5,74.7 33.8,75.7 33.8,77.2 32,77.2 30.9,76.4 32.1,76.4 32.1,74.8 32.7,74.8 32.7,74'],
  [U, '33.8,78 34.9,78 34.9,78.8 37.7,78.8 38.4,79.7 40.1,79.7 40.1,81.3 39.5,81.3 39.5,82.2 38.3,82.2 38.3,83.6 37,83.6 35,81 33.5,79.5'],
  [U, '37,84.3 40.6,84.5 41.2,84.6 41.2,83.8 42.3,83.8 42.3,83 43.5,83 43.5,82.2 45.2,82.2 45.2,81.4 46.4,81.4 46.4,80.6 47.6,80.6 47.6,81.4 46.9,81.4 46.9,85.3 46.4,85.5 46.3,87.8 46.9,87.8 46.9,88.6 49.2,88.6 49.2,89.3 50.4,89.3 50.4,89.5 51.6,89.5 51.6,90.3 52.1,90.3 52.1,91.1 52.7,91.1 52.7,92.7 52.1,92.7 52.1,95.5 51.5,95.5 51.5,96.7 50.9,96.7 50.9,98.2 51.5,98.2 51.5,99.1 50.9,99.1 50.9,99.8 49.7,99.8 49.7,99 49.1,99 49.1,98.3 49.8,98.3 49.8,97.4 49.2,97.4 49.2,96.6 48.6,96.6 48.6,95.7 47,95.7 46.5,96.7 46.2,97.3 46.2,99 46.8,99 46.8,102.2 46.2,102.2 46.2,104.7 47.9,104.7 47.9,105.4 50.3,105.4 50.3,104.6 55,104.6 55,103.9 56.1,103.9 56.1,104.7 56.7,104.7 56.7,105.5 57.3,105.5 57.3,106.3 57.9,106.3 57.9,107.1 53.2,107.1 53.2,107.9 50.2,107.9 49.8,108.8 49.8,109.5 37,109.5 37,84.3'],
  [U, '53.3,81.5 54.5,81.5 54.5,83.1 52.7,83.1 52.7,82.3 53.3,82.3'],
  [U, '67.3,103.8 68.5,103.8 68.5,105.4 67.3,105.4'],
  [U, '70.2,103.8 72,103.8 72,105.4 70.3,105.4 70.3,106.2 69.1,106.2 69.1,105.4 69.7,105.4 69.7,104.6 70.2,104.6'],
  [U, '84.4,106.8 86.2,106.7 86.2,108.3 86.8,108.3 86.8,108.9 85,108.9 85,108.4 84.4,108.4'],
  [P, '42.6,103.8 43.8,103.8 43.8,104.6 42.6,104.6'],
  [P, '49.8,91.8 50.8,91.8 50.8,92.7 49.8,92.7'],
  [P, '45.1,95.8 46.2,95.8 46.2,96.6 45.1,96.6'],
  [P, '40.4,95 41,95 41,95.7 40.4,95.7']
];

// raster of the source data
const cellEast = 0.56, cellSouth = 0.78, gridEastStart = 16.46, gridSouthStart = 22.3;
const gridCols = 149, gridRows = 112;

const cityNames = ['Eau Claire', 'Green Bay', 'Madison', 'Milwaukee'];
const cityEast = [35.6, 83.1, 64.4, 84.4];
const citySouth = [64.4, 70.2, 98, 97.9];

const titleText = 'Accumulated Precipitation (in)';
const subtitleText = 'May 13, 2026 to August 10, 2026';
const creditText = '(c) Midwestern Regional Climate Center';
const sourceText = 'Source: PRISM Weather Data';
const generatedText = 'Generated on: Tue Aug 11, 2026 10:07:14 EDT';

const parsePts = s => s.split(' ').map(p => p.split(',').map(Number));

const svg = d3.select('#chart');
const frame = { left: 119, right: 1066, top: 147, bottom: 1179 };

const mapX = d3.scaleLinear().domain([11.9, 106.6]).range([frame.left, frame.right]);
const mapY = d3.scaleLinear().domain([14.7, 117.9]).range([frame.top, frame.bottom]);
const color = d3.scaleThreshold()
  .domain(binEdges.slice(1, -1).map(Number))
  .range(binColors);

const line = d3.line().x(d => mapX(d[0])).y(d => mapY(d[1]));

// Titles
svg.append('text').attr('x', 592.5).attr('y', 82.5).attr('text-anchor', 'middle')
  .style('font-size', '33.5px').style('font-weight', 'bold').text(titleText);
svg.append('text').attr('x', 592.5).attr('y', 130).attr('text-anchor', 'middle')
  .style('font-size', '33.4px').text(subtitleText);

// Raster
const zonePolys = zones.map(z => [z[0], parsePts(z[1])]);
const bounds = zonePolys.map(z => [d3.extent(z[1], p => p[0]), d3.extent(z[1], p => p[1])]);
const cells = [];
for (let r = 0; r < gridRows; r++) {
  const s = gridSouthStart + r * cellSouth;
  let run = null;
  for (let c = 0; c < gridCols; c++) {
    const e = gridEastStart + c * cellEast;
    const pe = e + cellEast / 2, ps = s + cellSouth / 2;
    let v = baseValue;
    for (let i = zonePolys.length - 1; i >= 0; i--) {
      const b = bounds[i];
      if (pe < b[0][0] || pe > b[0][1] || ps < b[1][0] || ps > b[1][1]) continue;
      if (d3.polygonContains(zonePolys[i][1], [pe, ps])) { v = zonePolys[i][0]; break; }
    }
    if (run && run.value === v) run.cols++;
    else { run = { row: r, col: c, cols: 1, value: v }; cells.push(run); }
  }
}

const mainOutline = parsePts(stateOutline);
const island = parsePts(islandOutline);
svg.append('clipPath').attr('id', 'state')
  .selectAll('path').data([mainOutline, island]).enter().append('path')
  .attr('d', d => line(d) + 'Z');

svg.append('g').attr('clip-path', 'url(#state)')
  .selectAll('rect').data(cells).enter().append('rect')
  .attr('x', d => mapX(gridEastStart + d.col * cellEast))
  .attr('y', d => mapY(gridSouthStart + d.row * cellSouth))
  .attr('width', d => mapX(gridEastStart + (d.col + d.cols) * cellEast) - mapX(gridEastStart + d.col * cellEast))
  .attr('height', mapY(cellSouth + 14.7) - mapY(14.7))
  .attr('fill', d => color(d.value))
  .attr('shape-rendering', 'crispEdges');

// County lines and rivers
svg.append('g').selectAll('path').data(countyLines).enter().append('path')
  .attr('d', d => line(parsePts(d)))
  .attr('fill', 'none').attr('stroke', '#14202c').attr('stroke-width', 0.9).attr('stroke-opacity', 0.85);
svg.append('g').selectAll('path').data(riverLines).enter().append('path')
  .attr('d', d => line(parsePts(d)))
  .attr('fill', 'none').attr('stroke', '#1c2a38').attr('stroke-width', 0.8).attr('stroke-opacity', 0.75);

// State border
svg.append('g').selectAll('path')
  .data([line(mainOutline) + 'Z', line(island) + 'Z', line(parsePts(doorSeam))]).enter().append('path')
  .attr('d', d => d)
  .attr('fill', 'none').attr('stroke', '#000').attr('stroke-width', 3).attr('stroke-linejoin', 'round');

// Cities
svg.append('g').selectAll('circle').data(cityNames).enter().append('circle')
  .attr('cx', (d, i) => mapX(cityEast[i]))
  .attr('cy', (d, i) => mapY(citySouth[i]))
  .attr('r', 3.6).attr('fill', '#000');
svg.append('g').selectAll('text').data(cityNames).enter().append('text')
  .attr('x', (d, i) => mapX(cityEast[i]))
  .attr('y', (d, i) => mapY(citySouth[i]) - 5.5)
  .attr('text-anchor', 'middle').style('font-size', '30.7px').text(d => d);

// Frame, credit box knocks out the bottom left corner
svg.append('rect').attr('x', frame.left).attr('y', frame.top)
  .attr('width', frame.right - frame.left).attr('height', frame.bottom - frame.top)
  .attr('fill', 'none').attr('stroke', '#000').attr('stroke-width', 2);
svg.append('rect').attr('x', frame.left - 2).attr('y', 1154)
  .attr('width', 455).attr('height', 30).attr('fill', '#fff');
svg.append('text').attr('x', 119).attr('y', 1179).style('font-size', '22.2px').text(creditText);

// Colour bar
const legendX = d3.scalePoint().domain(binEdges).range([frame.left, frame.right]);
const legendTop = 1187, legendBottom = 1239;
svg.append('g').selectAll('rect').data(binColors).enter().append('rect')
  .attr('x', (d, i) => legendX(binEdges[i]))
  .attr('y', legendTop)
  .attr('width', (d, i) => legendX(binEdges[i + 1]) - legendX(binEdges[i]))
  .attr('height', legendBottom - legendTop)
  .attr('fill', d => d)
  .attr('stroke', '#000').attr('stroke-width', 0.8);
svg.append('rect').attr('x', frame.left).attr('y', legendTop)
  .attr('width', frame.right - frame.left).attr('height', legendBottom - legendTop)
  .attr('fill', 'none').attr('stroke', '#000').attr('stroke-width', 2);

const legendAxis = svg.append('g').attr('transform', `translate(0,${legendBottom})`)
  .call(d3.axisBottom(legendX).tickSize(8).tickPadding(0));
legendAxis.select('.domain').remove();
legendAxis.selectAll('line').attr('stroke', '#000').attr('stroke-width', 1.4);
const tickFont = 25, tickAngle = 40, tickTop = 20;
legendAxis.selectAll('text')
  .attr('dy', null).attr('y', null)
  .style('font-size', tickFont + 'px').style('font-family', '"DejaVu Sans", sans-serif')
  .attr('text-anchor', 'middle').attr('dominant-baseline', 'central')
  .attr('transform', function () {
    const w = this.getComputedTextLength();
    const rad = tickAngle * Math.PI / 180;
    const h = w * Math.sin(rad) + tickFont * 0.78 * Math.cos(rad);
    return `translate(0,${tickTop + h / 2}) rotate(${-tickAngle})`;
  });

// Footer
svg.append('text').attr('x', 592.5).attr('y', 1330).attr('text-anchor', 'middle')
  .style('font-size', '26.4px').text(sourceText);
svg.append('text').attr('x', 592.5).attr('y', 1372).attr('text-anchor', 'middle')
  .style('font-size', '26.4px').text(generatedText);
</script>
</body>
</html>
